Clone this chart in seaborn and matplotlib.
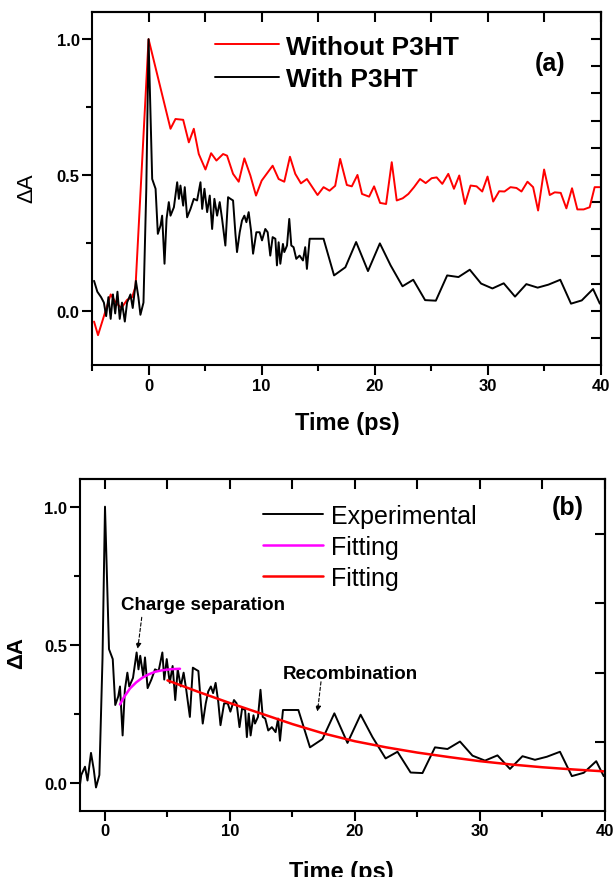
import numpy as np
import pandas as pd
import matplotlib
matplotlib.use("Agg")
import matplotlib.pyplot as plt
from matplotlib.ticker import MultipleLocator
import seaborn as sns

# =============================
# Données
# =============================
# (a) sans P3HT (rouge)
t_sans = [-4.82, -4.47, -3.35, -2.9, -2.4, -1.9, -1.45, -1.15, 0.0, 1.94, 2.38, 3.06,
          3.56, 4.0, 4.44, 5.03, 5.53, 6.0, 6.59, 6.94, 7.47, 7.97, 8.47, 9.0, 9.5,
          10.0, 10.97, 11.5, 12.0, 12.5, 12.97, 13.47, 14.0, 14.94, 15.47, 16.0, 16.5,
          16.94, 17.53, 17.97, 18.47, 18.87, 19.5, 19.94, 20.47, 21.0, 21.5, 21.94,
          22.47, 22.97, 23.47, 24.0, 24.5, 25.03, 25.47, 25.97, 26.5, 27.0, 27.47,
          27.97, 28.47, 29.0, 29.5, 29.97, 30.47, 31.0, 31.47, 32.0, 32.53, 32.97,
          33.5, 34.0, 34.44, 34.97, 35.47, 35.91, 36.44, 36.94, 37.44, 37.91, 38.47,
          39.0, 39.44, 39.88]
da_sans = [-0.04, -0.09, 0.06, 0.03, 0.01, 0.04, 0.05, 0.09, 1.0, 0.67, 0.706, 0.703,
           0.62, 0.67, 0.577, 0.52, 0.58, 0.553, 0.577, 0.571, 0.504, 0.475, 0.561, 0.498,
           0.424, 0.479, 0.534, 0.485, 0.475, 0.567, 0.504, 0.469, 0.485, 0.426, 0.455,
           0.442, 0.46, 0.559, 0.463, 0.458, 0.5, 0.43, 0.42, 0.458, 0.397, 0.393, 0.547,
           0.406, 0.414, 0.43, 0.455, 0.485, 0.47, 0.488, 0.491, 0.467, 0.504, 0.449,
           0.498, 0.393, 0.461, 0.458, 0.439, 0.494, 0.402, 0.44, 0.439, 0.455, 0.452,
           0.439, 0.475, 0.455, 0.369, 0.52, 0.426, 0.436, 0.434, 0.377, 0.451, 0.373,
           0.373, 0.381, 0.455, 0.455]

# avec P3HT (noir) -- même série dans (a) et (b)
t_avec = [-4.82, -4.53, -4.2, -3.95, -3.75, -3.55, -3.35, -3.15, -2.95, -2.75, -2.55,
          -2.35, -2.1, -1.9, -1.6, -1.4, -1.12, -0.9, -0.72, -0.45, -0.2, 0.0, 0.32,
          0.62, 0.82, 1.06, 1.2, 1.41, 1.59, 1.79, 1.94, 2.24, 2.53, 2.68, 2.82, 3.06,
          3.2, 3.41, 3.71, 4.0, 4.29, 4.59, 4.74, 4.94, 5.18, 5.41, 5.62, 5.82, 6.06,
          6.29, 6.5, 6.79, 7.03, 7.24, 7.47, 7.68, 7.82, 8.06, 8.26, 8.47, 8.65, 8.85,
          9.06, 9.24, 9.53, 9.82, 10.03, 10.32, 10.53, 10.76, 10.97, 11.21, 11.35, 11.5,
          11.65, 11.88, 12.0, 12.24, 12.44, 12.62, 12.82, 13.06, 13.35, 13.65, 13.85,
          14.0, 14.24, 14.59, 15.47, 16.4, 17.4, 18.35, 19.4, 20.45, 21.4, 22.45, 23.4,
          24.45, 25.4, 26.4, 27.4, 28.4, 29.4, 30.4, 31.4, 32.4, 33.4, 34.4, 35.35,
          36.4, 37.35, 38.3, 39.3, 39.9]
da_avec = [0.11, 0.07, 0.05, 0.03, -0.02, 0.05, -0.03, 0.06, -0.01, 0.07, -0.03,
           0.03, -0.04, 0.03, 0.06, 0.01, 0.11, 0.05, -0.015, 0.03, 0.45, 1.0, 0.485,
           0.449, 0.283, 0.314, 0.35, 0.173, 0.338, 0.4, 0.35, 0.381, 0.473, 0.412,
           0.461, 0.387, 0.455, 0.344, 0.375, 0.412, 0.406, 0.473, 0.375, 0.449, 0.363,
           0.424, 0.301, 0.412, 0.35, 0.4, 0.338, 0.24, 0.418, 0.412, 0.406, 0.283,
           0.216, 0.289, 0.332, 0.35, 0.326, 0.363, 0.295, 0.21, 0.289, 0.289, 0.259,
           0.301, 0.289, 0.203, 0.271, 0.265, 0.167, 0.252, 0.173, 0.246, 0.216, 0.24,
           0.338, 0.24, 0.234, 0.191, 0.203, 0.185, 0.234, 0.154, 0.265, 0.265, 0.265,
           0.13, 0.16, 0.253, 0.146, 0.248, 0.167, 0.09, 0.114, 0.039, 0.037, 0.13,
           0.124, 0.151, 0.1, 0.082, 0.101, 0.052, 0.098, 0.085, 0.096, 0.114, 0.026,
           0.038, 0.08, 0.026]

# (b) ajustements
t_fit1 = [1.2, 1.5, 2.0, 2.5, 3.0, 3.5, 4.0, 4.5, 5.0, 5.5, 6.0]
da_fit1 = [0.285, 0.31, 0.343, 0.365, 0.382, 0.394, 0.403, 0.408, 0.411, 0.413, 0.414]
t_fit2 = [5.0, 7.5, 10.0, 12.5, 15.0, 17.5, 20.0, 22.5, 25.0, 27.5, 30.0, 32.5, 35.0,
          37.5, 40.0]
da_fit2 = [0.372, 0.330, 0.290, 0.252, 0.214, 0.180, 0.152, 0.130, 0.111, 0.095,
           0.080, 0.068, 0.058, 0.050, 0.043]

df_sans = pd.DataFrame({"t": t_sans, "dA": da_sans})
df_avec = pd.DataFrame({"t": t_avec, "dA": da_avec})
df_fit1 = pd.DataFrame({"t": t_fit1, "dA": da_fit1})
df_fit2 = pd.DataFrame({"t": t_fit2, "dA": da_fit2})

# =============================
# Style
# =============================
sns.set_theme(style="ticks")
plt.rcParams["font.family"] = ["Liberation Sans", "DejaVu Sans"]
plt.rcParams["axes.linewidth"] = 1.5
for k in ["text.color", "axes.labelcolor", "xtick.color", "ytick.color",
          "axes.edgecolor"]:
    plt.rcParams[k] = "black"

fig = plt.figure(figsize=(6.13, 8.78), dpi=100)
ax1 = fig.add_axes([0.1501, 0.5831, 0.8303, 0.4021])
ax2 = fig.add_axes([0.1305, 0.0752, 0.8564, 0.3781])


def habillage(ax, ylim, right_step):
    ax.set_ylim(*ylim)
    ax.set_xticks([0, 10, 20, 30, 40])
    ax.set_xticklabels(["0", "10", "20", "30", "40"])
    ax.set_yticks([0.0, 0.5, 1.0])
    ax.set_yticklabels(["0.0", "0.5", "1.0"])
    ax.xaxis.set_minor_locator(MultipleLocator(5))
    ax.yaxis.set_minor_locator(MultipleLocator(0.25))
    ax.tick_params(which="major", direction="out", length=7, width=1.5,
                   labelsize=12, pad=2, colors="black")
    ax.tick_params(which="minor", direction="out", length=4, width=1.5)
    for lab in ax.get_xticklabels() + ax.get_yticklabels():
        lab.set_fontweight("bold")
    for s in ax.spines.values():
        s.set_linewidth(1.5)
        s.set_color("black")

    top = ax.secondary_xaxis("top")
    top.set_xticks(np.arange(0, 41, 5))
    top.tick_params(direction="in", length=7, width=1.5, labeltop=False)
    right = ax.secondary_yaxis("right")
    right.set_yticks(np.arange(ylim[0] + right_step, ylim[1] - 0.01, right_step))
    right.tick_params(direction="in", length=7, width=1.5, labelright=False)
    for sec in (top, right):
        for s in sec.spines.values():
            s.set_linewidth(1.5)


# =============================
# (a)
# =============================
sns.lineplot(data=df_sans, x="t", y="dA", ax=ax1, color="#ff0000", lw=1.4,
             label="Without P3HT", estimator=None, sort=False)
sns.lineplot(data=df_avec, x="t", y="dA", ax=ax1, color="black", lw=1.4,
             label="With P3HT", estimator=None, sort=False)
ax1.set_xlim(-5, 40)
habillage(ax1, (-0.2, 1.1), 0.1)
ax1.set_xlabel("Time (ps)", fontsize=17, fontweight="bold")
ax1.xaxis.set_label_coords(0.501, -0.13)
ax1.set_ylabel("ΔA", fontsize=16)
ax1.yaxis.set_label_coords(-0.108, 0.504)
leg1 = ax1.legend(loc="upper left", bbox_to_anchor=(0.242, 0.936), frameon=False,
                  prop={"weight": "bold", "size": 19}, handlelength=2.4,
                  handletextpad=0.3, labelspacing=0.33, borderpad=0,
                  borderaxespad=0)
ax1.text(0.90, 0.855, "(a)", transform=ax1.transAxes, ha="center", va="center",
         fontsize=18, fontweight="bold")

# =============================
# (b)
# =============================
sns.lineplot(data=df_avec, x="t", y="dA", ax=ax2, color="black", lw=1.4,
             label="Experimental", estimator=None, sort=False)
sns.lineplot(data=df_fit1, x="t", y="dA", ax=ax2, color="#ff00ff", lw=1.8,
             label="Fitting", estimator=None, sort=False)
sns.lineplot(data=df_fit2, x="t", y="dA", ax=ax2, color="#ff0000", lw=1.8,
             label="Fitting", estimator=None, sort=False)
ax2.set_xlim(-2, 40)
habillage(ax2, (-0.1, 1.1), 0.25)
ax2.set_xlabel("Time (ps)", fontsize=17, fontweight="bold")
ax2.xaxis.set_label_coords(0.497, -0.148)
ax2.set_ylabel("ΔA", fontsize=16, fontweight="bold")
ax2.yaxis.set_label_coords(-0.101, 0.48)
leg2 = ax2.legend(loc="upper left", bbox_to_anchor=(0.349, 0.925), frameon=False,
                  prop={"size": 18}, handlelength=2.4, handletextpad=0.3,
                  labelspacing=0.28, borderpad=0, borderaxespad=0)
ax2.text(0.93, 0.915, "(b)", transform=ax2.transAxes, ha="center", va="center",
         fontsize=18, fontweight="bold")

fleche = dict(arrowstyle="-|>", linestyle=(0, (3, 2)), lw=0.8, color="black",
              mutation_scale=8, shrinkA=0, shrinkB=0)
ax2.text(1.28, 0.647, "Charge separation", fontsize=13.5, fontweight="bold",
         ha="left", va="center")
ax2.annotate("", xy=(2.62, 0.486), xytext=(2.94, 0.60), arrowprops=fleche)
ax2.text(14.24, 0.396, "Recombination", fontsize=13.5, fontweight="bold",
         ha="left", va="center")
ax2.annotate("", xy=(17.0, 0.259), xytext=(17.28, 0.367), arrowprops=fleche)

fig.savefig("out.png", dpi=100)
